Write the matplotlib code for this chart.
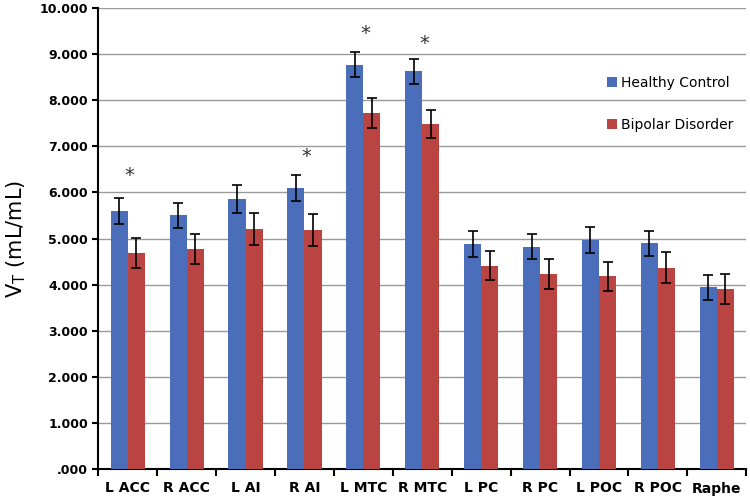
import numpy as np
import matplotlib
matplotlib.use("Agg")
import matplotlib.pyplot as plt
from matplotlib.ticker import FuncFormatter

# =========================================================
# DATA
# =========================================================

regions = ["L ACC", "R ACC", "L AI", "R AI", "L MTC", "R MTC",
           "L PC", "R PC", "L POC", "R POC", "Raphe"]

hc_mean = [5.60, 5.50, 5.85, 6.10, 8.77, 8.63, 4.88, 4.82, 4.97, 4.90, 3.94]
hc_err = [0.28, 0.27, 0.30, 0.28, 0.27, 0.27, 0.29, 0.27, 0.28, 0.27, 0.27]

bd_mean = [4.69, 4.77, 5.20, 5.18, 7.72, 7.48, 4.41, 4.23, 4.18, 4.37, 3.90]
bd_err = [0.32, 0.33, 0.35, 0.35, 0.33, 0.31, 0.32, 0.33, 0.32, 0.34, 0.33]

star_regions = ["L ACC", "R AI", "L MTC", "R MTC"]
star_y = [6.36, 6.77, 9.44, 9.24]

# =========================================================
# PLOT
# =========================================================

fig = plt.figure(figsize=(7.5, 5), dpi=100)
ax = fig.add_axes([0.131, 0.062, 0.864, 0.922])

x = np.arange(len(regions))
w = 0.29

err_kw = dict(ecolor="black", elinewidth=1.2, capsize=3.5, capthick=1.2)

ax.bar(x - w / 2, hc_mean, w, yerr=hc_err, color="#4A6EBA",
       label="Healthy Control", error_kw=err_kw, zorder=3)
ax.bar(x + w / 2, bd_mean, w, yerr=bd_err, color="#B94442",
       label="Bipolar Disorder", error_kw=err_kw, zorder=3)

for r, sy in zip(star_regions, star_y):
    ax.text(regions.index(r) + 0.03, sy, "*", ha="center", va="center",
            fontsize=14, color="#333333")

ax.set_xlim(-0.5, len(regions) - 0.5)
ax.set_ylim(0, 10)
ax.set_yticks(np.arange(0, 11, 1))
ax.yaxis.set_major_formatter(
    FuncFormatter(lambda v, p: f"{v:.3f}".lstrip("0") if v < 1 else f"{v:.3f}")
)

ax.set_xticks(x)
ax.set_xticklabels(regions, fontsize=10, fontweight="bold")
ax.set_xticks(np.arange(-0.5, len(regions)), minor=True)
ax.tick_params(axis="x", which="major", length=0, pad=9)
ax.tick_params(axis="x", which="minor", length=5, width=1.5)
ax.tick_params(axis="y", length=4, width=1.5, labelsize=9)
for lab in ax.get_yticklabels():
    lab.set_fontweight("bold")

ax.grid(axis="y", color="#9a9a9a", linewidth=1.0, zorder=0)
ax.spines["top"].set_visible(False)
ax.spines["right"].set_visible(False)
ax.spines["left"].set_linewidth(1.5)
ax.spines["bottom"].set_linewidth(1.5)

ax.set_ylabel(r"V$_\mathrm{T}$ (mL/mL)", fontsize=15, labelpad=8)

ax.legend(loc="upper right", bbox_to_anchor=(1.0, 0.88), frameon=False,
          fontsize=10, handlelength=0.7, handleheight=0.7,
          handletextpad=0.3, labelspacing=2.0)

plt.savefig("out.png", dpi=100)
